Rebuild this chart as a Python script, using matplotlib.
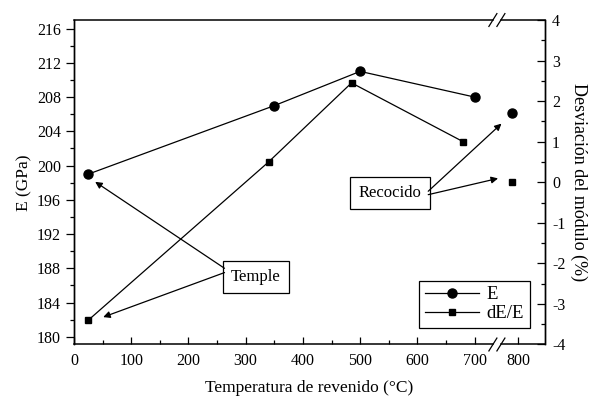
import numpy as np
import matplotlib
matplotlib.use('Agg')
import matplotlib.pyplot as plt

plt.rcParams['font.family'] = ['Liberation Serif', 'DejaVu Serif']
plt.rcParams['axes.unicode_minus'] = False

# tempering temperatures (°C) and values
temp_E = [25, 350, 500, 700]
E_temple = [199, 207, 211, 208]
temp_dE = [25, 340, 485, 680]
dE_temple = [-3.4, 0.5, 2.45, 1.0]
temp_recocido = 790
E_recocido = 206.1
dE_recocido = 0.0

x_ticks = [0, 100, 200, 300, 400, 500, 600, 700, 800]
x_minor = [50, 150, 250, 350, 450, 550, 650]
left_ticks = list(range(180, 217, 4))
right_ticks = list(range(-4, 5))

BREAK_SHIFT = 24   # temperatures past the axis break are drawn shifted left


def xpos(t):
    t = np.asarray(t, dtype=float)
    return np.where(t > 700, t - BREAK_SHIFT, t)


fig = plt.figure(figsize=(5.93, 4.01), dpi=100)
ax = fig.add_axes([0.1248, 0.1409, 0.7942, 0.8092])
ax2 = ax.twinx()

ax.plot(xpos(temp_E), E_temple, '-o', color='k', lw=0.9, ms=6.5)
ax.plot(xpos(temp_recocido), E_recocido, 'o', color='k', ms=6.5)
ax2.plot(xpos(temp_dE), dE_temple, '-s', color='k', lw=0.9, ms=5)
ax2.plot(xpos(temp_recocido), dE_recocido, 's', color='k', ms=5)

ax.set_xlim(0, 823)
ax.set_ylim(179.1, 217.0)
ax2.set_ylim(-4, 4)

ax.set_xticks(xpos(x_ticks))
ax.set_xticklabels([str(t) for t in x_ticks])
ax.set_xticks(xpos(x_minor), minor=True)
ax.set_yticks(left_ticks)
ax.set_yticks(np.arange(182, 216, 4), minor=True)
ax2.set_yticks(right_ticks)
ax2.set_yticks(np.arange(-3.5, 4, 1), minor=True)

ax.tick_params(axis='x', which='both', direction='in', top=False, labelsize=11.5, pad=6)
ax.tick_params(axis='x', which='major', length=5, width=0.9)
ax.tick_params(axis='x', which='minor', length=3, width=0.9)
ax.tick_params(axis='y', which='major', direction='out', length=6, width=0.9, labelsize=11.5)
ax.tick_params(axis='y', which='minor', direction='out', length=3, width=0.9)
ax2.tick_params(axis='y', which='major', direction='in', length=6, width=0.9, labelsize=11.5, pad=5)
ax2.tick_params(axis='y', which='minor', direction='in', length=3, width=0.9)

# top/bottom spines drawn by hand so the axis break shows
for a in (ax, ax2):
    a.spines['top'].set_visible(False)
    a.spines['bottom'].set_visible(False)
for s in ('left', 'right'):
    ax.spines[s].set_linewidth(1.0)
    ax2.spines[s].set_linewidth(1.0)

x_break = 739
gap = 7
for yv in (179.1, 217.0):
    ax.plot([0, x_break - gap], [yv, yv], color='k', lw=1.1, clip_on=False)
    ax.plot([x_break + gap, 823], [yv, yv], color='k', lw=1.1, clip_on=False)
    for dx in (-gap, gap):
        ax.plot([x_break + dx - 7, x_break + dx + 7], [yv - 0.75, yv + 0.75],
                color='k', lw=0.9, clip_on=False)

ax.set_xlabel('Temperatura de revenido (°C)', fontsize=12.5, labelpad=8)
ax.set_ylabel('E (GPa)', fontsize=12.5, labelpad=3)
ax2.set_ylabel('Desviación del módulo (%)', fontsize=13, rotation=270, labelpad=16)

box = dict(boxstyle='square,pad=0.5', fc='white', ec='k', lw=0.9)
arrow = dict(arrowstyle='-|>', color='k', lw=0.9, mutation_scale=10,
             shrinkA=0, shrinkB=0)

ax.text(318, 187.0, 'Temple', fontsize=12, ha='center', va='center', bbox=box)
ax.annotate('', xy=(37, 198.1), xytext=(263, 188.0), arrowprops=arrow)
ax.annotate('', xy=(51, 182.3), xytext=(263, 187.5), arrowprops=arrow)

ax.text(552, 196.8, 'Recocido', fontsize=12, ha='center', va='center', bbox=box)
ax.annotate('', xy=(747, 204.9), xytext=(619, 197.0), arrowprops=arrow)
ax.annotate('', xy=(741, 198.5), xytext=(619, 196.6), arrowprops=arrow)

h1, = ax.plot([], [], '-o', color='k', lw=0.9, ms=6.5)
h2, = ax.plot([], [], '-s', color='k', lw=0.9, ms=5)
leg = ax.legend([h1, h2], ['E', 'dE/E'], loc='lower right',
                bbox_to_anchor=(0.968, 0.051), fontsize=13.5, fancybox=False,
                edgecolor='k', framealpha=1, handlelength=2.9, borderpad=0.3,
                labelspacing=0.1, handletextpad=0.4, borderaxespad=0)
leg.get_frame().set_linewidth(0.9)

fig.savefig('out.png', dpi=100)
